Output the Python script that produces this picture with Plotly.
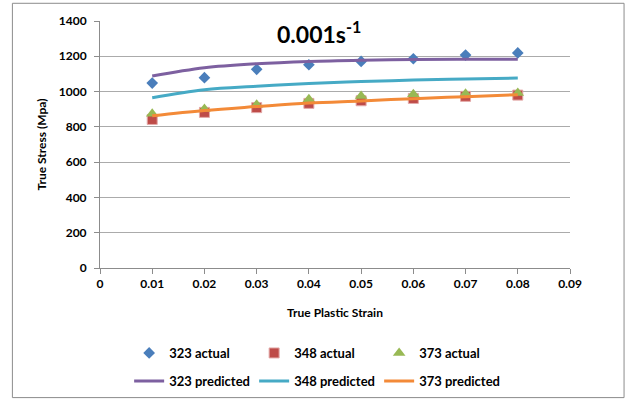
import plotly.graph_objects as go

strain = [0.01, 0.02, 0.03, 0.04, 0.05, 0.06, 0.07, 0.08]

actual_323 = [1048, 1079, 1126, 1152, 1171, 1186, 1207, 1219]
actual_348 = [842, 882, 909, 933, 948, 961, 973, 980]
actual_373 = [875, 901, 926, 956, 975, 985, 987, 992]

pred_323 = [1088, 1135, 1158, 1171, 1178, 1182, 1183, 1183]
pred_348 = [965, 1010, 1030, 1046, 1057, 1065, 1071, 1077]
pred_373 = [863, 893, 915, 935, 947, 960, 971, 982]

x_ticks = [0, 0.01, 0.02, 0.03, 0.04, 0.05, 0.06, 0.07, 0.08, 0.09]
x_labels = ["0", "0.01", "0.02", "0.03", "0.04", "0.05", "0.06", "0.07", "0.08", "0.09"]
y_ticks = [0, 200, 400, 600, 800, 1000, 1200, 1400]

FONT = "Lato, Open Sans, sans-serif"

fig = go.Figure()

fig.add_trace(go.Scatter(x=strain, y=actual_323, mode="markers", name="323 actual",
                         marker=dict(symbol="diamond", size=9, color="#4A7EBB"), legend="legend"))
fig.add_trace(go.Scatter(x=strain, y=actual_348, mode="markers", name="348 actual",
                         marker=dict(symbol="square", size=10, color="#BE4B48",
                                     line=dict(color="#E3A9A8", width=1)), legend="legend"))
fig.add_trace(go.Scatter(x=strain, y=actual_373, mode="markers", name="373 actual",
                         marker=dict(symbol="triangle-up", size=11, color="#98B954"), legend="legend"))
fig.add_trace(go.Scatter(x=strain, y=pred_323, mode="lines", name="323 predicted",
                         line=dict(color="#7D60A0", width=3, shape="spline"), legend="legend2"))
fig.add_trace(go.Scatter(x=strain, y=pred_348, mode="lines", name="348 predicted",
                         line=dict(color="#46AAC5", width=3, shape="spline"), legend="legend2"))
fig.add_trace(go.Scatter(x=strain, y=pred_373, mode="lines", name="373 predicted",
                         line=dict(color="#F38A38", width=3, shape="spline"), legend="legend2"))

fig.update_layout(
    width=629, height=399,
    margin=dict(l=100, r=59, t=21, b=131),
    paper_bgcolor="white", plot_bgcolor="white",
    font=dict(family=FONT, size=12, color="black", weight="bold"),
    showlegend=True,
    legend=dict(orientation="h", x=0.062, y=0.1153, xanchor="left", yanchor="middle",
                yref="container",
                entrywidth=80, entrywidthmode="pixels", bgcolor="rgba(0,0,0,0)",
                font=dict(family=FONT, size=13, weight="bold")),
    legend2=dict(orientation="h", x=0.062, y=0.0451, xanchor="left", yanchor="middle",
                 yref="container",
                 entrywidth=80, entrywidthmode="pixels", bgcolor="rgba(0,0,0,0)",
                 font=dict(family=FONT, size=13, weight="bold")),
    xaxis=dict(range=[0, 0.09], tickvals=x_ticks, ticktext=x_labels,
               showgrid=False, zeroline=False, showline=True, linecolor="#8C8C8C", linewidth=1,
               ticks="outside", ticklen=5, tickcolor="#8C8C8C",
               title=dict(text="True Plastic Strain", standoff=18,
                          font=dict(family=FONT, size=12, weight="bold"))),
    yaxis=dict(range=[0, 1400], tickvals=y_ticks,
               showgrid=True, gridcolor="#ABABAB", gridwidth=1, zeroline=False,
               showline=True, linecolor="#8C8C8C", linewidth=1,
               ticks="outside", ticklen=5, tickcolor="#8C8C8C", ticklabelstandoff=5,
               title=dict(text="True Stress (Mpa)", standoff=9,
                          font=dict(family=FONT, size=12, weight="bold"))),
    annotations=[dict(text="<b>0.001s<sup>-1</sup></b>", xref="paper", yref="paper",
                      x=0.465, y=0.955, xanchor="center", yanchor="middle", showarrow=False,
                      font=dict(family=FONT, size=23, color="black"))],
    shapes=[dict(type="rect", xref="paper", yref="paper", x0=-0.1864, x1=1.115,
                 y0=-0.5247, y1=1.0717, line=dict(color="#8C8C8C", width=1), layer="below")],
)

fig.write_html("out.html", config={"displayModeBar": False},
               post_script="document.body.style.margin='0';document.body.style.overflow='hidden';")
